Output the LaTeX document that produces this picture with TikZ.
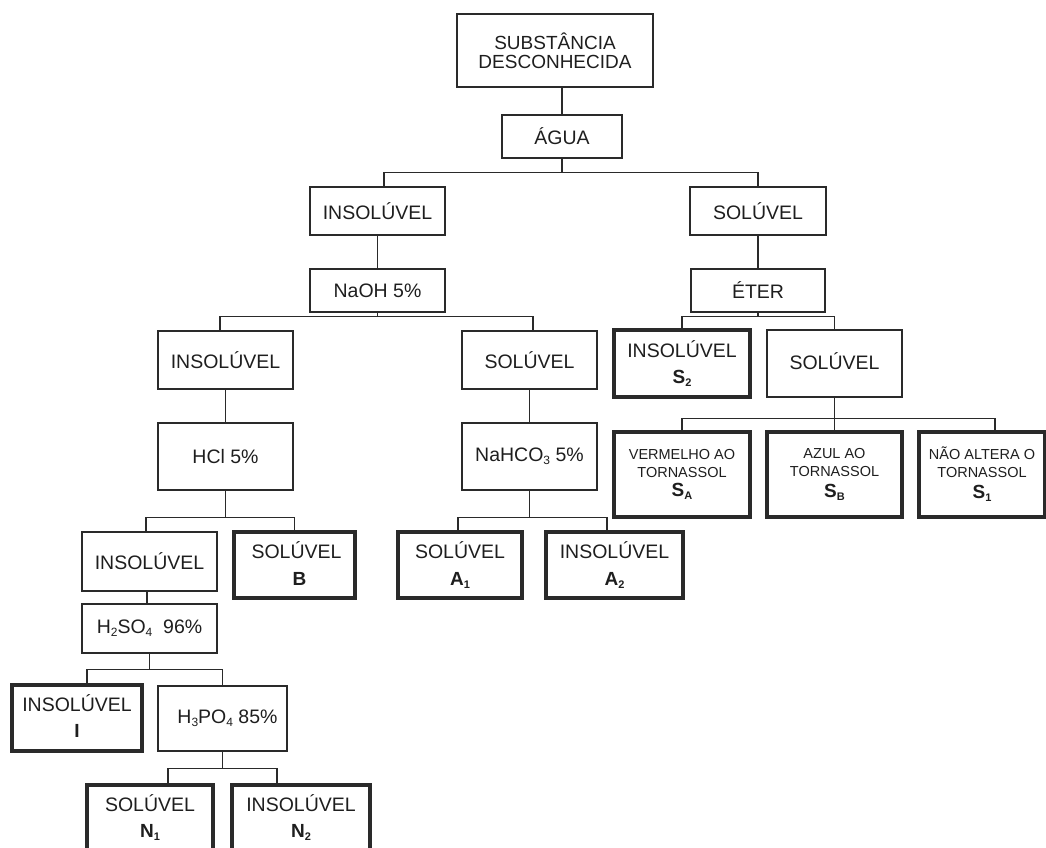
\documentclass[tikz,border=0pt]{standalone}
\usepackage{fontspec}
\setmainfont{Liberation Sans}
\definecolor{lc}{HTML}{2A2A2A}
\definecolor{tc}{HTML}{1E1E1E}
\newcommand\fsmain{\fontsize{19.5}{25}\selectfont}
\newcommand\fssm{\fontsize{14.5}{18}\selectfont}
\newcommand\lbl[2]{{\fontsize{19}{19}\selectfont\bfseries #1\raisebox{-3pt}{\fontsize{11}{11}\selectfont #2}}}
\newcommand\chsub[1]{\raisebox{-3pt}{\fontsize{12}{12}\selectfont #1}}
\begin{document}
\begin{tikzpicture}[x=1pt,y=-1pt,
  tbox/.style={draw=lc, line width=1.3pt, rectangle, inner sep=0pt, align=center, text=tc, font=\fsmain},
  kbox/.style={tbox, line width=3.4pt},
  conn/.style={draw=lc, line width=1.2pt}]
\useasboundingbox (0,0) rectangle (1046,848);
\clip (0,0) rectangle (1046,848);

% nodes
\node[tbox, line width=2.6pt, minimum width=196pt, minimum height=73pt, font=\fontsize{19}{19}\selectfont] (subst) at (555,50.5) {SUBSTÂNCIA\\DESCONHECIDA};
\node[tbox, minimum width=120pt, minimum height=43pt] (agua) at (562,136.5) {ÁGUA};
\node[tbox, minimum width=135pt, minimum height=48pt] (ins1) at (377.5,211) {INSOLÚVEL};
\node[tbox, minimum width=136pt, minimum height=48pt] (sol1) at (758,211) {SOLÚVEL};
\node[tbox, minimum width=135pt, minimum height=43pt] (naoh) at (377.5,290.5) {NaOH 5\%};
\node[tbox, minimum width=134pt, minimum height=43pt] (eter) at (758,290.5) {ÉTER};
\node[tbox, minimum width=135pt, minimum height=58pt] (ins2) at (225.5,360) {INSOLÚVEL};
\node[tbox, minimum width=135pt, minimum height=58pt] (sol2) at (529.5,360) {SOLÚVEL};
\node[tbox, minimum width=135pt, minimum height=67pt] (hcl) at (225.5,456.5) {HCl 5\%};
\node[tbox, minimum width=135pt, minimum height=67pt] (nahco) at (529.5,456.5) {NaHCO\chsub{3} 5\%};
\node[tbox, minimum width=135pt, minimum height=59pt] (ins3) at (149.5,561.5) {INSOLÚVEL};
\node[kbox, minimum width=121pt, minimum height=66pt] (solb) at (294.5,565) {\hspace*{4pt}SOLÚVEL\\[2pt]\hspace*{10pt}\lbl{B}{}};
\node[kbox, minimum width=124pt, minimum height=66pt] (a1) at (460,565) {SOLÚVEL\\[2pt]\lbl{A}{1}};
\node[kbox, minimum width=137pt, minimum height=66pt] (a2) at (614.5,565) {INSOLÚVEL\\[2pt]\lbl{A}{2}};
\node[tbox, minimum width=135pt, minimum height=49pt] (h2so) at (149.5,628.5) {H\chsub{2}SO\chsub{4}\ \ 96\%};
\node[kbox, minimum width=130pt, minimum height=66pt] (insi) at (77,718) {INSOLÚVEL\\[1pt]\lbl{I}{}};
\node[tbox, minimum width=129pt, minimum height=65pt] (h3po) at (222.5,718.5) {\hspace*{10pt}H\chsub{3}PO\chsub{4} 85\%};
\node[kbox, minimum width=126pt, minimum height=66pt] (n1) at (150,818) {SOLÚVEL\\[1pt]\lbl{N}{1}};
\node[kbox, minimum width=138pt, minimum height=66pt] (n2) at (301,818) {INSOLÚVEL\\[1pt]\lbl{N}{2}};
\node[kbox, minimum width=136pt, minimum height=67pt] (s2) at (682,363.5) {INSOLÚVEL\\[1pt]\lbl{S}{2}};
\node[tbox, minimum width=135pt, minimum height=67pt] (sol3) at (834.5,363.5) {\\[-12pt]SOLÚVEL};
\node[kbox, minimum width=136pt, minimum height=85pt, font=\fssm] (sa) at (682,474.5) {VERMELHO AO\\TORNASSOL\\[1pt]\lbl{S}{A}};
\node[kbox, minimum width=135pt, minimum height=85pt, font=\fssm] (sb) at (834.5,474.5) {AZUL AO\\TORNASSOL\\[3pt]\lbl{S}{B}};
\node[kbox, minimum width=126pt, minimum height=85pt, font=\fssm] (s1) at (982,474.5) {NÃO ALTERA O\\TORNASSOL\\[3pt]\lbl{S}{1}};

% connectors
\draw[conn] (agua.north |- subst.south) -- (agua.north);
\draw[conn] (agua.south) -- ++(0,14) coordinate (j1);
\draw[conn] ([xshift=6.5pt]ins1.north) |- (j1) -| (sol1.north);
\draw[conn] (ins1.south) -- (naoh.north);
\draw[conn] (sol1.south) -- (eter.north);
\draw[conn] (naoh.south) -- ++(0,4) coordinate (j2);
\draw[conn] ([xshift=-5.5pt]ins2.north) |- (j2) -| ([xshift=3.5pt]sol2.north);
\draw[conn] (ins2.south) -- (hcl.north);
\draw[conn] (sol2.south) -- (nahco.north);
\draw[conn] (hcl.south) -- ++(0,27) coordinate (j3);
\draw[conn] ([xshift=-3.5pt]ins3.north) |- (j3) -| (solb.north);
\draw[conn] (nahco.south) -- ++(0,27) coordinate (j4);
\draw[conn] ([xshift=-2pt]a1.north) |- (j4) -| ([xshift=-7.5pt]a2.north);
\draw[conn] ([xshift=-2.5pt]ins3.south) -- ([xshift=-2.5pt]h2so.north);
\draw[conn] (h2so.south) -- ++(0,16) coordinate (j5);
\draw[conn] ([xshift=10pt]insi.north) |- (j5) -| (h3po.north);
\draw[conn] (h3po.south) -- ++(0,17) coordinate (j6);
\draw[conn] ([xshift=18pt]n1.north) |- (j6) -| ([xshift=-24pt]n2.north);
\draw[conn] (eter.south) -- ++(0,4) coordinate (j7);
\draw[conn] (s2.north) |- (j7) -| (sol3.north);
\draw[conn] (sol3.south) -- (sb.north);
\draw[conn] (sol3.south) -- ++(0,21) coordinate (j8);
\draw[conn] (sa.north) |- (j8) -| ([xshift=13pt]s1.north);
\end{tikzpicture}
\end{document}
